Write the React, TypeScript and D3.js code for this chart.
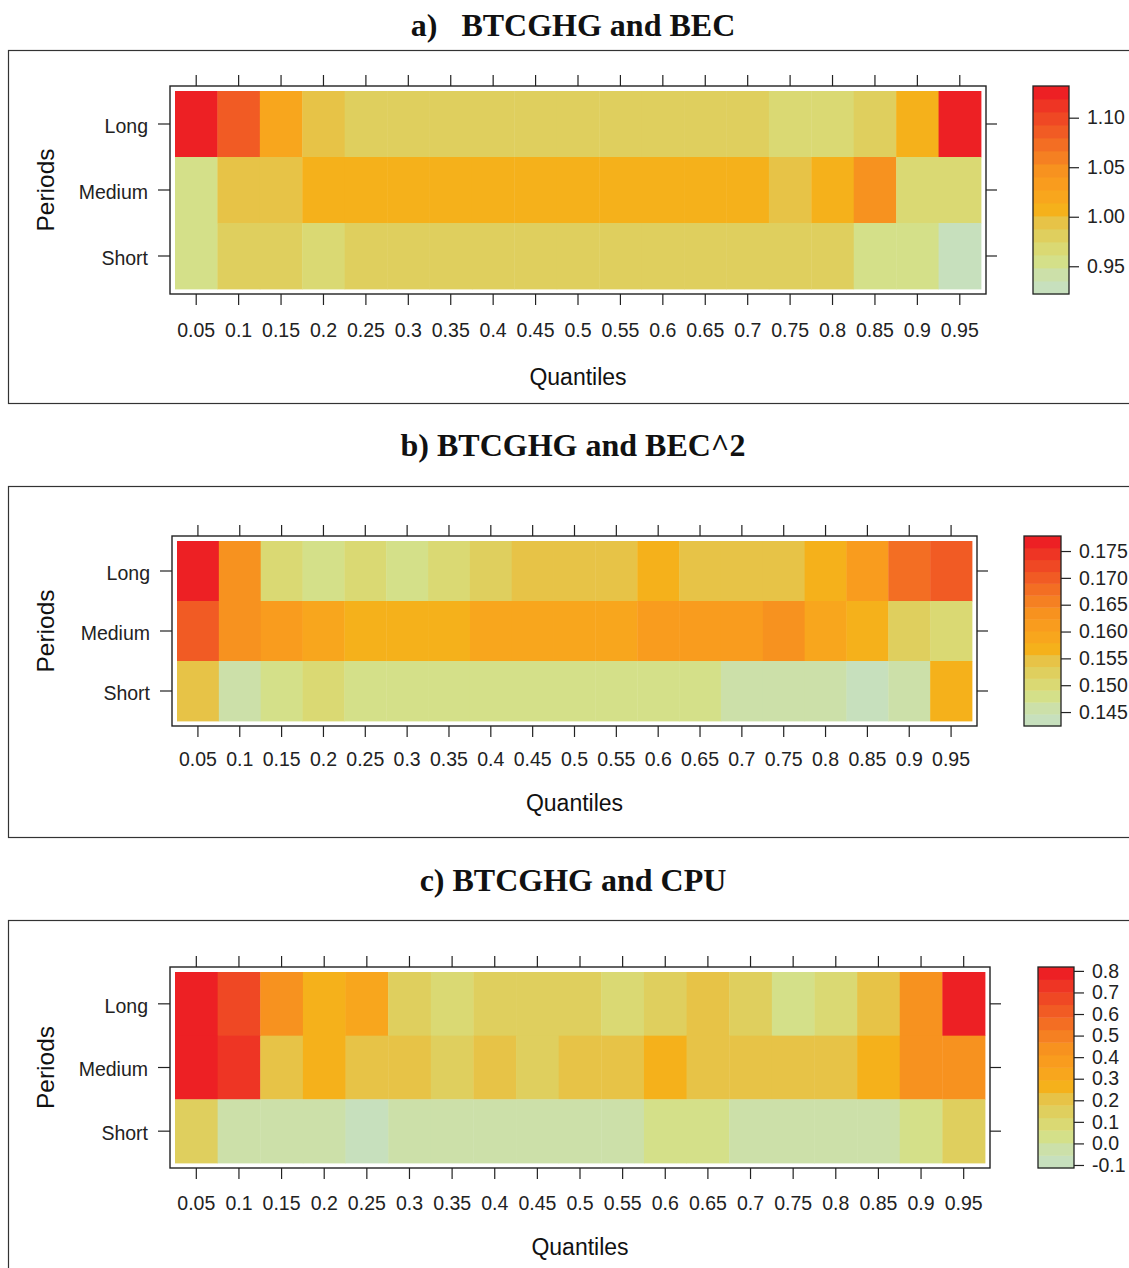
import React, { useRef, useEffect } from "react";
import * as d3 from "d3";

// categories
const quantiles = ["0.05", "0.1", "0.15", "0.2", "0.25", "0.3", "0.35", "0.4", "0.45", "0.5", "0.55", "0.6", "0.65", "0.7", "0.75", "0.8", "0.85", "0.9", "0.95"];
const periods = ["Long", "Medium", "Short"];

// a) BTCGHG and BEC
const becLong = [1.125, 1.085, 1.021, 0.994, 0.979, 0.978, 0.98, 0.981, 0.979, 0.978, 0.98, 0.982, 0.981, 0.979, 0.966, 0.968, 0.984, 1.007, 1.126];
const becMedium = [0.954, 0.993, 0.994, 1.008, 1.007, 1.009, 1.008, 1.006, 1.007, 1.008, 1.009, 1.007, 1.008, 1.006, 0.995, 1.008, 1.045, 0.966, 0.967];
const becShort = [0.955, 0.984, 0.983, 0.968, 0.979, 0.98, 0.978, 0.979, 0.981, 0.98, 0.979, 0.978, 0.98, 0.981, 0.979, 0.98, 0.954, 0.955, 0.93];
const becKey = [0.95, 1.0, 1.05, 1.1];

// b) BTCGHG and BEC^2
const bec2Long = [0.1768, 0.1634, 0.1502, 0.148, 0.1501, 0.1479, 0.1502, 0.1524, 0.1546, 0.1545, 0.1546, 0.1568, 0.1545, 0.1546, 0.1545, 0.1567, 0.1612, 0.1679, 0.17];
const bec2Medium = [0.1701, 0.1635, 0.1613, 0.159, 0.1568, 0.1569, 0.1567, 0.1591, 0.159, 0.1589, 0.1591, 0.1612, 0.1613, 0.1612, 0.1645, 0.159, 0.1568, 0.1524, 0.1502];
const bec2Short = [0.1546, 0.1457, 0.1479, 0.1502, 0.148, 0.1479, 0.1481, 0.148, 0.1479, 0.148, 0.1481, 0.1479, 0.148, 0.1457, 0.1458, 0.1457, 0.1436, 0.1458, 0.1568];
const bec2Key = [0.145, 0.15, 0.155, 0.16, 0.165, 0.17, 0.175];

// c) BTCGHG and CPU
const cpuLong = [0.79, 0.67, 0.44, 0.26, 0.32, 0.15, 0.09, 0.15, 0.14, 0.15, 0.09, 0.16, 0.21, 0.15, 0.03, 0.08, 0.2, 0.44, 0.79];
const cpuMedium = [0.79, 0.73, 0.21, 0.27, 0.2, 0.21, 0.16, 0.21, 0.16, 0.21, 0.22, 0.27, 0.21, 0.2, 0.21, 0.21, 0.26, 0.44, 0.45];
const cpuShort = [0.15, -0.03, -0.02, -0.03, -0.08, -0.03, -0.02, -0.03, -0.02, -0.03, -0.02, 0.03, 0.02, -0.03, -0.02, -0.03, -0.02, 0.03, 0.15];
const cpuKey = [-0.1, 0.0, 0.1, 0.2, 0.3, 0.4, 0.5, 0.6, 0.7, 0.8];

// colour ramp (low -> high)
const palette = ["#C7E0BD", "#CCE0A9", "#D4E089", "#DAD973", "#DFCF5E", "#E7C347", "#F5B11B", "#F8A61D", "#F99C1E", "#F7921F", "#F58022", "#F36E23", "#F15B24", "#EF4824", "#EE3524", "#ED2024"];

const SANS = "'Liberation Sans', Arial, sans-serif";
const SERIF = "'Liberation Serif', 'Times New Roman', serif";

const panels = [
  {
    title: "a)   BTCGHG and BEC", rows: [becLong, becMedium, becShort], key: becKey, digits: 2, range: [0.922, 1.132],
    titleY: 36, boxTop: 50, boxBottom: 403, cellsX: [175, 981], cellsY: [91, 289], labelY: 330, xTitleY: 377,
    legendX: 1033, legendW: 36,
  },
  {
    title: "b) BTCGHG and BEC^2", rows: [bec2Long, bec2Medium, bec2Short], key: bec2Key, digits: 3, range: [0.1424, 0.1778],
    titleY: 456, boxTop: 486, boxBottom: 837, cellsX: [177, 972], cellsY: [541, 721], labelY: 759, xTitleY: 803,
    legendX: 1024, legendW: 37,
  },
  {
    title: "c) BTCGHG and CPU", rows: [cpuLong, cpuMedium, cpuShort], key: cpuKey, digits: 1, range: [-0.114, 0.818],
    titleY: 891, boxTop: 920, boxBottom: 1300, cellsX: [175, 985], cellsY: [972, 1163], labelY: 1203, xTitleY: 1247,
    legendX: 1038, legendW: 36,
  },
];

const App = () => {
  const svgRef = useRef(null);

  useEffect(() => {
    const svg = d3.select(svgRef.current);
    svg.selectAll("*").remove();

    panels.forEach((p) => {
      const g = svg.append("g");
      const x = d3.scaleBand().domain(quantiles).range(p.cellsX);
      const y = d3.scaleBand().domain(periods).range(p.cellsY);
      const color = d3.scaleQuantize().domain(p.range).range(palette);

      //outer box
      g.append("rect")
        .attr("x", 8.5).attr("y", p.boxTop + 0.5)
        .attr("width", 1160).attr("height", p.boxBottom - p.boxTop)
        .attr("fill", "none").attr("stroke", "#333").attr("stroke-width", 1.2);

      //title
      g.append("text")
        .attr("x", 573).attr("y", p.titleY)
        .attr("text-anchor", "middle")
        .style("white-space", "pre")
        .attr("font-family", SERIF).attr("font-weight", "bold").attr("font-size", 32)
        .attr("fill", "#111")
        .text(p.title);

      //cells
      const cells = periods.flatMap((per, i) => p.rows[i].map((v, j) => ({ per, q: quantiles[j], v })));
      g.selectAll(".cell")
        .data(cells)
        .join("rect")
        .attr("class", "cell")
        .attr("x", (d) => x(d.q))
        .attr("y", (d) => y(d.per))
        .attr("width", x.bandwidth() + 0.4)
        .attr("height", y.bandwidth() + 0.4)
        .attr("fill", (d) => color(d.v));

      //panel frame
      const fx0 = p.cellsX[0] - 5, fx1 = p.cellsX[1] + 5;
      const fy0 = p.cellsY[0] - 5, fy1 = p.cellsY[1] + 5;
      g.append("rect")
        .attr("x", fx0).attr("y", fy0)
        .attr("width", fx1 - fx0).attr("height", fy1 - fy0)
        .attr("fill", "none").attr("stroke", "#222").attr("stroke-width", 1.4);

      const styleAxis = (a) => {
        a.select(".domain").remove();
        a.attr("font-family", SANS).attr("font-size", 19.5);
        a.selectAll("line").attr("stroke", "#222").attr("stroke-width", 1.2);
        a.selectAll("text").attr("fill", "#222");
      };

      //axes
      g.append("g")
        .attr("transform", `translate(0,${fy1})`)
        .call(d3.axisBottom(x).tickSize(11).tickSizeOuter(0))
        .call(styleAxis)
        .call((a) => a.selectAll("text").attr("y", p.labelY - fy1).attr("dy", "0.35em"));

      g.append("g")
        .attr("transform", `translate(0,${fy0})`)
        .call(d3.axisTop(x).tickSize(11).tickSizeOuter(0).tickFormat(() => ""))
        .call(styleAxis);

      g.append("g")
        .attr("transform", `translate(${fx0},0)`)
        .call(d3.axisLeft(y).tickSize(12).tickSizeOuter(0).tickPadding(10))
        .call(styleAxis)
        .call((a) => a.selectAll("text").attr("dy", "0.45em"));

      g.append("g")
        .attr("transform", `translate(${fx1},0)`)
        .call(d3.axisRight(y).tickSize(11).tickSizeOuter(0).tickFormat(() => ""))
        .call(styleAxis);

      //axis titles
      g.append("text")
        .attr("x", (p.cellsX[0] + p.cellsX[1]) / 2).attr("y", p.xTitleY)
        .attr("dy", "0.35em").attr("text-anchor", "middle")
        .attr("font-family", SANS).attr("font-size", 23).attr("fill", "#111")
        .text("Quantiles");

      const cy = (p.cellsY[0] + p.cellsY[1]) / 2;
      g.append("text")
        .attr("transform", `translate(45,${cy}) rotate(-90)`)
        .attr("dy", "0.35em").attr("text-anchor", "middle")
        .attr("font-family", SANS).attr("font-size", 24.5).attr("fill", "#111")
        .text("Periods");

      //colour key
      const ly = d3.scaleLinear().domain(p.range).range([fy1, fy0]);
      g.selectAll(".band")
        .data(palette)
        .join("rect")
        .attr("class", "band")
        .attr("x", p.legendX)
        .attr("width", p.legendW)
        .attr("y", (c) => ly(color.invertExtent(c)[1]))
        .attr("height", (c) => ly(color.invertExtent(c)[0]) - ly(color.invertExtent(c)[1]) + 0.4)
        .attr("fill", (c) => c);
      g.append("rect")
        .attr("x", p.legendX).attr("y", fy0)
        .attr("width", p.legendW).attr("height", fy1 - fy0)
        .attr("fill", "none").attr("stroke", "#222").attr("stroke-width", 1.3);

      g.append("g")
        .attr("transform", `translate(${p.legendX + p.legendW},0)`)
        .call(d3.axisRight(ly).tickValues(p.key).tickSize(10).tickPadding(8)
          .tickFormat((d) => d.toFixed(p.digits)))
        .call(styleAxis);
    });
  }, []);

  return (
    <div style={{ position: "absolute", left: 0, top: 0, background: "#fff" }}>
      <svg ref={svgRef} width={1129} height={1268} style={{ display: "block" }} />
    </div>
  );
};

export default App;
